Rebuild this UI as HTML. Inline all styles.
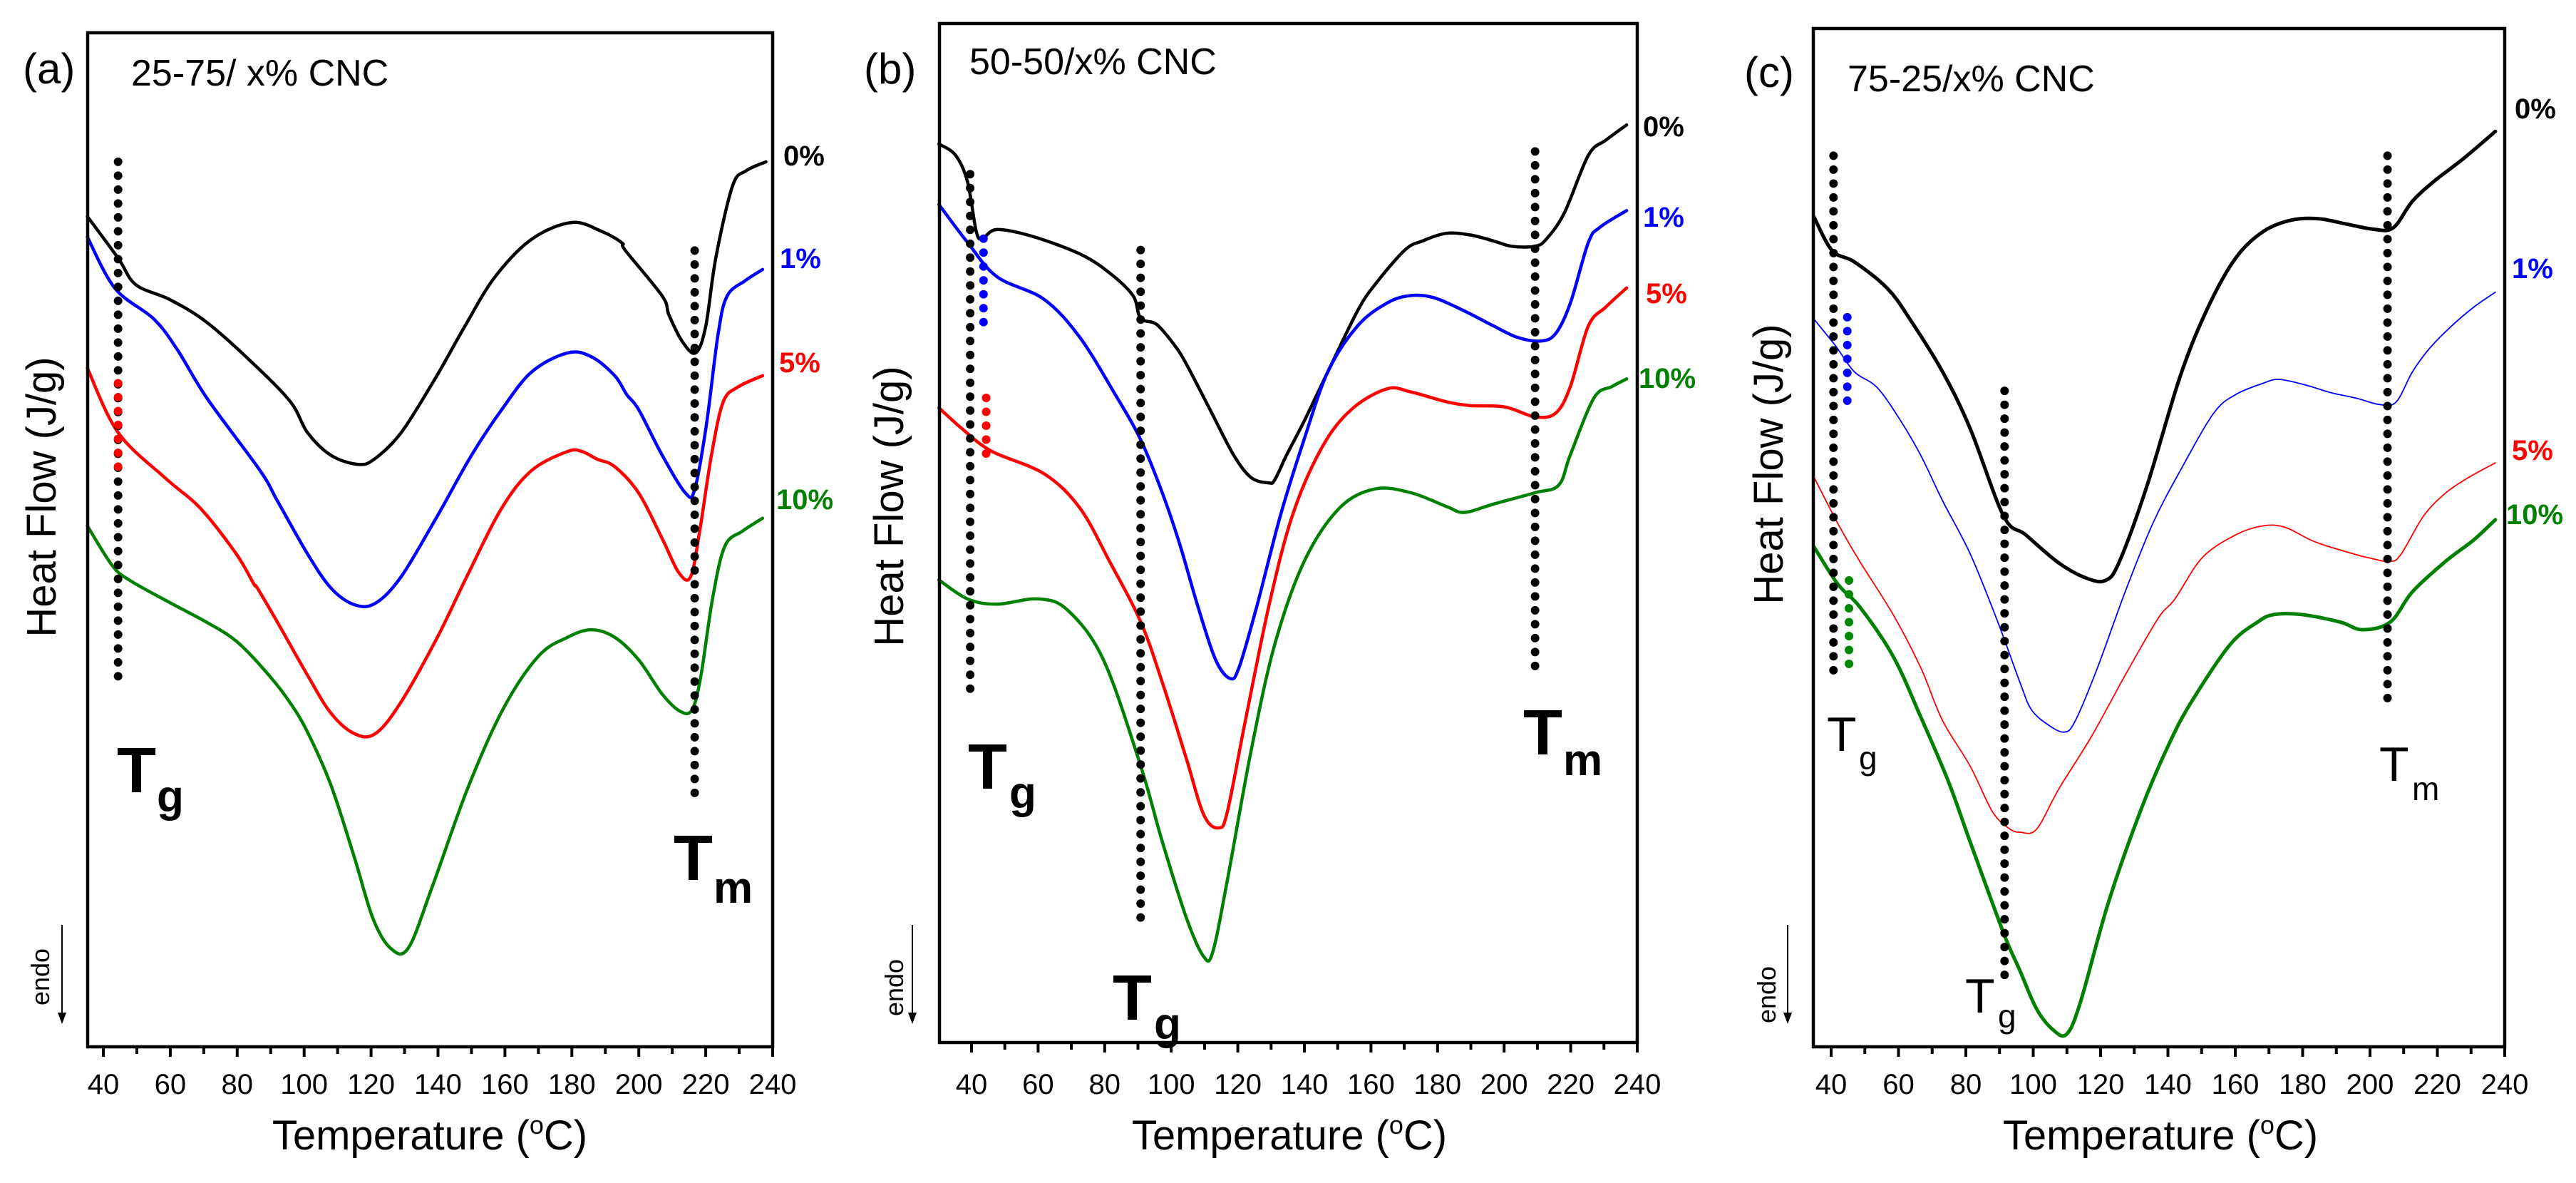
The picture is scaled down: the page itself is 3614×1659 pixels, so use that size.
<!DOCTYPE html>
<html><head><meta charset="utf-8"><style>
html,body{margin:0;padding:0;background:#fff}
svg{display:block}
text{font-family:"Liberation Sans",Arial,sans-serif}
</style></head><body>
<svg id="fig" width="3614" height="1659" viewBox="0 0 3614 1659" xmlns="http://www.w3.org/2000/svg"></svg>
<script>
// ---- Panel (a) data: temperature (°C) and heat flow (a.u.) ----
const aT0 = [35.2,44.4,49.7,60,71,85,96,101,108,116,121,129,139,148,157,168,180,189,195,196,207,209,213,217,220,223,228,232,238];
const aV0 = [1095,1040,1005,985,955,900,850,810,780,768,775,810,880,950,1015,1065,1087,1075,1060,1050,990,965,930,915,950,1040,1135,1155,1167];
const aT1 = [35.2,43.5,55,62,71,86.8,92,101,108,115,121.3,129,139.8,150,159,168,178.7,185.8,192.8,196.4,200,207,214,216.7,220.2,223.7,226.4,231.7,237];
const aV1 = [1068,1000,960,920,855,760,720,650,605,583,585,620,700,780,840,890,915,910,885,860,840,780,730,735,820,940,990,1010,1025];
const aT5 = [35.2,44.4,58.5,69,79.7,85,86,92,101,108,115,121.3,129,139.8,148.6,159,168,178.7,183,187.5,192.8,200,207,212,215.5,218.2,221.7,225.2,229.6,237];
const aV5 = [895,810,750,710,650,610,605,560,490,440,413,413,455,540,620,710,760,785,785,775,765,730,670,625,620,680,780,850,870,885];
const aT10 = [35.2,42.6,47.9,60.2,70.8,79.7,88.5,95.6,101,108,115,120.5,125.8,131.1,138.2,148.8,159.4,170,178.7,185.8,192.8,200,207,212.5,216,218.6,222,225.7,231,237];
const aV10 = [687,635,615,585,560,535,495,455,415,345,250,170,130,130,210,340,445,515,540,550,540,510,465,442,445,490,590,660,680,697];
// ---- Panel (b) data ----
const bT0 = [30.2,35.2,38.8,41.4,43.2,47.6,58.3,72.5,81.4,88.5,90.8,95.6,100.9,104.5,111.6,118.7,124,129.3,131.1,134.7,140,147.1,156,161.3,170.2,175.5,182.6,189.7,196.8,202.2,209.3,212.8,218.2,225.3,230.6,236.8];
const bV0 = [1185,1170,1135,1070,1060,1072,1063,1040,1015,985,955,947,920,895,835,775,745,738,742,775,820,885,965,1000,1045,1057,1067,1065,1057,1050,1050,1060,1095,1170,1190,1210];
const bT1 = [30.2,38.8,47.6,61.8,72.5,83.1,90.8,97.3,102.7,108,113.3,117.7,120.4,125.7,132.8,139.9,147.1,156,164.8,171.9,179,187.9,196.8,203.9,211,215.5,219.9,225.3,228.8,236.8];
const bV1 = [1105,1055,1010,980,930,855,795,725,655,575,505,480,495,575,695,795,885,945,975,985,982,965,945,930,925,935,975,1055,1075,1097];
const bT5 = [30.2,37,45.9,61.8,72.5,81.4,90.8,97.3,104.5,109.8,114.3,116.9,122.3,129.3,136.4,145.3,154.2,164.8,171.9,182.6,189.7,200.3,209.3,215.5,219.9,225.3,230.6,236.8];
const bV5 = [837,810,780,750,705,635,555,475,375,300,283,305,425,575,695,785,835,862,858,845,840,838,825,830,865,945,970,995];
const bT10 = [30.2,38.8,47.6,60,68.9,79.6,90.8,97.3,104.5,109.8,112.5,116.9,124,131.1,140,150.6,161.3,172,182.6,188,196.8,209.3,216.4,219.9,227,232.4,236.8];
const bV10 = [610,585,578,585,570,505,365,265,165,113,120,215,385,525,635,705,730,725,707,699,710,725,735,775,850,865,875];
// ---- Panel (c) data ----
const cT0 = [34.8,40.3,46.9,56.7,63.3,73.1,81.3,91.2,97.8,107.6,115.8,121.5,125.6,133.8,143.7,151.9,160.1,168.3,176.5,184.7,192.9,201.1,206.9,212.6,219.2,227.4,237.2];
const cV0 = [1095,1050,1035,1000,960,890,815,700,675,638,618,615,640,740,885,975,1040,1075,1090,1092,1085,1078,1080,1115,1142,1170,1207];
const cT1 = [34.8,41.2,46.9,53.5,60,66.6,73.1,81.3,89.5,96.1,99.4,104.3,109.2,112.5,119.1,127.3,135.5,143.7,153.5,160.1,168.3,173.2,181.4,188,196.2,202.7,207.7,212.6,217.5,224.1,230.7,237.2];
const cV1 = [960,925,890,870,830,780,720,650,560,480,445,425,415,430,500,600,690,760,835,860,875,880,872,863,855,847,850,890,920,950,975,995];
const cT5 = [34.8,42,48.5,58.4,66.6,73.1,81.3,87.9,92.8,96.1,101,107.6,117.4,127.3,137.1,142,150.2,160.1,168.3,174.8,183,191.2,199.4,206,209.3,215.9,222.4,229,237.2];
const cV5 = [752,690,640,570,500,430,370,310,288,283,287,340,410,490,565,590,645,675,687,685,667,655,645,640,650,700,730,750,770];
const cT10 = [34.8,42,48.5,58.4,66.6,74.8,81.3,91.2,96.1,101,106,110,114.1,122.3,132.2,140.4,147,158.4,166.6,171.5,179.7,191.2,197.7,206,212.6,222.4,230.7,237.2];
const cV10 = [660,610,580,515,435,350,270,150,100,50,22,17,60,190,315,400,455,530,560,570,570,560,550,560,600,640,668,695];
const xTicks = [40,60,80,100,120,140,160,180,200,220,240];
const seriesNames = ['0%','1%','5%','10%'];
const colors = ['#000000','#0000ff','#ff0000','#008000'];

const NS = 'http://www.w3.org/2000/svg';
const svg = document.getElementById('fig');
function mk(tag, attrs, parent){const e=document.createElementNS(NS,tag);for(const k in attrs)e.setAttribute(k,attrs[k]);(parent||svg).appendChild(e);return e;}
function smoothPath(pts){
  let d='M'+pts[0][0].toFixed(1)+' '+pts[0][1].toFixed(1);
  for(let i=0;i<pts.length-1;i++){
    const p0=pts[i-1]||pts[i],p1=pts[i],p2=pts[i+1],p3=pts[i+2]||p2;
    const c1=[p1[0]+(p2[0]-p0[0])/6,p1[1]+(p2[1]-p0[1])/6];
    const c2=[p2[0]-(p3[0]-p1[0])/6,p2[1]-(p3[1]-p1[1])/6];
    d+=` C${c1[0].toFixed(1)} ${c1[1].toFixed(1)} ${c2[0].toFixed(1)} ${c2[1].toFixed(1)} ${p2[0].toFixed(1)} ${p2[1].toFixed(1)}`;
  }
  return d;
}

const panels = [
 {id:'a', left:123,right:1084,top:46,bottom:1468,x40:145,px10:46.95,
  T:[aT0,aT1,aT5,aT10],V:[aV0,aV1,aV5,aV10],widths:[4.5,4.5,4.5,4.5],
  lab:'(a)',labX:32,labY:117,title:'25-75/ x% CNC',titleX:184,titleY:120,
  pct:[[1099,232],[1094,376],[1093,522],[1089,714]],
  dots:[[44.4,1167,485,'#000'],[44.4,875,760,'#f00'],[216.7,1050,330,'#000']],
  tl:[[164,1111,220,1138,'g',true],[945,1234,1001,1266,'m',true]],
  yt:[58,697],endo:[56,1370,87,1297,1436],xt:[603,1612]},
 {id:'b', left:1318,right:2297,top:33,bottom:1462,x40:1363,px10:46.7,
  T:[bT0,bT1,bT5,bT10],V:[bV0,bV1,bV5,bV10],widths:[4.5,4.5,4.5,4.5],
  lab:'(b)',labX:1212,labY:117,title:'50-50/x% CNC',titleX:1360,titleY:104,
  pct:[[2305,191],[2305,318],[2309,425],[2299,544]],
  dots:[[39.6,1145,455,'#000'],[43.6,1060,945,'#00f'],[44.4,850,760,'#f00'],[90.8,1045,150,'#000'],[209.3,1175,495,'#000']],
  tl:[[1358,1106,1416,1133,'g',true],[1561,1430,1619,1457,'g',true],[2137,1058,2193,1087,'m',true]],
  yt:[1247,710],endo:[1254,1385,1280,1297,1436],xt:[1809,1612]},
 {id:'c', left:2544,right:3514,top:40,bottom:1468,x40:2569,px10:47.25,
  T:[cT0,cT1,cT5,cT10],V:[cV0,cV1,cV5,cV10],widths:[5,1.8,1.8,5],
  lab:'(c)',labX:2447,labY:122,title:'75-25/x% CNC',titleX:2592,titleY:128,
  pct:[[3528,166],[3524,390],[3524,645],[3516,735]],
  dots:[[40.7,1175,490,'#000'],[44.8,962,845,'#00f'],[45.3,615,500,'#080'],[91.5,865,90,'#000'],[205.2,1175,455,'#000']],
  tl:[[2563,1053,2608,1079,'g',false],[2757,1420,2803,1441,'g',false],[3338,1095,3384,1122,'m',false]],
  yt:[2481,651],endo:[2478,1395,2508,1297,1436],xt:[3031,1612]}
];

panels.forEach(p=>{
  const g = mk('g',{});
  
  
  const xs = t => p.x40 + (t-40)*p.px10/10;
  const ys = v => p.bottom - v*1.0635;
  p.T.forEach((Ts,si)=>{
    const pts = Ts.map((t,i)=>[xs(t),ys(p.V[si][i])]);
    const path = mk('path',{d:smoothPath(pts),fill:'none',stroke:colors[si],'stroke-width':p.widths[si],'stroke-linejoin':'round','stroke-linecap':'round'},g);
    
    
  });
  p.dots.forEach(dd=>{
    const l = mk('line',{x1:xs(dd[0]),x2:xs(dd[0]),y1:ys(dd[1]),y2:ys(dd[2]),stroke:dd[3],'stroke-width':12,'stroke-linecap':'round','stroke-dasharray':'0 19.5'},g);
    
    
  });
  const fr = mk('rect',{x:p.left,y:p.top,width:p.right-p.left,height:p.bottom-p.top,fill:'none',stroke:'#000','stroke-width':4.5},g);
  
  
  for(let t=40;t<=240;t+=10){
    const major = t%20===0;
    const tk = mk('line',{x1:xs(t),x2:xs(t),y1:p.bottom,y2:p.bottom+(major?14:10),stroke:'#000','stroke-width':4},g);
    
    
  }
  xTicks.forEach(t=>{
    const tx = mk('text',{x:xs(t),y:1534,'font-size':40,'text-anchor':'middle',fill:'#000'},g);
    tx.textContent = t;
    
    
  });
  const xt = mk('text',{x:p.xt[0],y:p.xt[1],'font-size':58,'text-anchor':'middle',fill:'#000'},g);
  xt.innerHTML = 'Temperature (<tspan dy="-22" font-size="36">o</tspan><tspan dy="22">C)</tspan>';
  
  
  const yt = mk('text',{x:0,y:0,'font-size':58,'text-anchor':'middle',transform:`translate(${p.yt[0]+20},${p.yt[1]}) rotate(-90)`,fill:'#000'},g);
  yt.textContent = 'Heat Flow (J/g)';
  
  
  const en = mk('text',{x:0,y:0,'font-size':36,'text-anchor':'middle',transform:`translate(${p.endo[0]+13},${p.endo[1]}) rotate(-90)`,fill:'#000'},g);
  en.textContent = 'endo';
  
  
  const ar = mk('line',{x1:p.endo[2],x2:p.endo[2],y1:p.endo[3],y2:p.endo[4]-12,stroke:'#000','stroke-width':2},g);
  
  
  const ah = mk('path',{d:`M${p.endo[2]-6} ${p.endo[4]-16} L${p.endo[2]+6} ${p.endo[4]-16} L${p.endo[2]} ${p.endo[4]} Z`,fill:'#000'},g);
  
  
  const pl = mk('text',{x:p.labX,y:p.labY,'font-size':60,fill:'#000'},g);
  pl.textContent = p.lab;
  
  
  const pt = mk('text',{x:p.titleX,y:p.titleY,'font-size':52,fill:'#000'},g);
  pt.textContent = p.title;
  
  
  p.pct.forEach((pp,i)=>{
    const t = mk('text',{x:pp[0],y:pp[1],'font-size':40,'font-weight':'bold',fill:colors[i]},g);
    t.textContent = seriesNames[i];
    
    
  });
  p.tl.forEach(l=>{
    const bold = l[5];
    const t1 = mk('text',{x:l[0],y:l[1],'font-size':bold?90:68,'font-weight':bold?'bold':'normal',fill:'#000'},g);
    t1.textContent = 'T';
    
    
    const t2 = mk('text',{x:l[2],y:l[3],'font-size':bold?62:46,'font-weight':bold?'bold':'normal',fill:'#000'},g);
    t2.textContent = l[4];
    
    
  });
});
</script>
</body></html>
